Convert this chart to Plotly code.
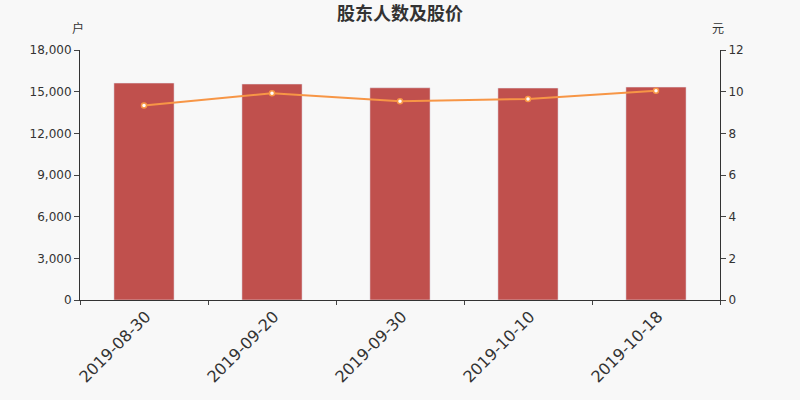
import plotly.graph_objects as go

dates = ['2019-08-30', '2019-09-20', '2019-09-30', '2019-10-10', '2019-10-18']
holders = [15620, 15550, 15280, 15260, 15330]   # 户
price = [9.34, 9.92, 9.54, 9.65, 10.05]         # 元

font = 'DejaVu Sans, Noto Sans CJK SC, sans-serif'
cjk = 'Noto Sans CJK SC, sans-serif'

fig = go.Figure()
fig.add_trace(go.Bar(
    x=dates, y=holders, name='股东人数',
    marker_color='#c0504d', width=0.47,
))
fig.add_trace(go.Scatter(
    x=dates, y=price, name='股价', yaxis='y2', mode='lines+markers',
    line=dict(color='#f79646', width=2),
    marker=dict(size=5, color='#ffffff', line=dict(color='#f79646', width=1.5)),
))

fig.update_layout(
    width=800, height=400,
    paper_bgcolor='#f8f8f8', plot_bgcolor='#f8f8f8',
    margin=dict(l=80, r=80, t=50, b=100),
    showlegend=False,
    font=dict(family=font, color='#333333', size=12),
    title=dict(text='股东人数及股价', x=0.5, xanchor='center',
               y=0.965, yanchor='middle',
               font=dict(family=cjk, size=18, color='#333333', weight=600)),
    xaxis=dict(
        type='category', tickson='boundaries', ticks='outside', ticklen=4,
        tickangle=-45, tickfont=dict(size=16), ticklabelshift=2,
        showline=True, linecolor='#333333', showgrid=False,
    ),
    yaxis=dict(
        range=[0, 18000], tickvals=[0, 3000, 6000, 9000, 12000, 15000, 18000],
        tickformat=',', ticks='outside', ticklen=5,
        showline=True, linecolor='#333333', showgrid=False, zeroline=False,
    ),
    yaxis2=dict(
        range=[0, 12], tickvals=[0, 2, 4, 6, 8, 10, 12],
        overlaying='y', side='right', ticks='outside', ticklen=5,
        showline=True, linecolor='#333333', showgrid=False, zeroline=False,
    ),
    annotations=[
        dict(text='户', xref='paper', yref='paper', x=-0.003, y=1.088,
             xanchor='center', yanchor='middle', showarrow=False,
             font=dict(family=cjk, size=12)),
        dict(text='元', xref='paper', yref='paper', x=0.997, y=1.088,
             xanchor='center', yanchor='middle', showarrow=False,
             font=dict(family=cjk, size=12)),
    ],
)

# drop the browser's default page margin so the 800x400 figure fills the window
fig.write_html('out.html', config={'displayModeBar': False}, post_script=(
    "document.body.style.margin='0';"
    "document.body.style.background='#f8f8f8';"
))
